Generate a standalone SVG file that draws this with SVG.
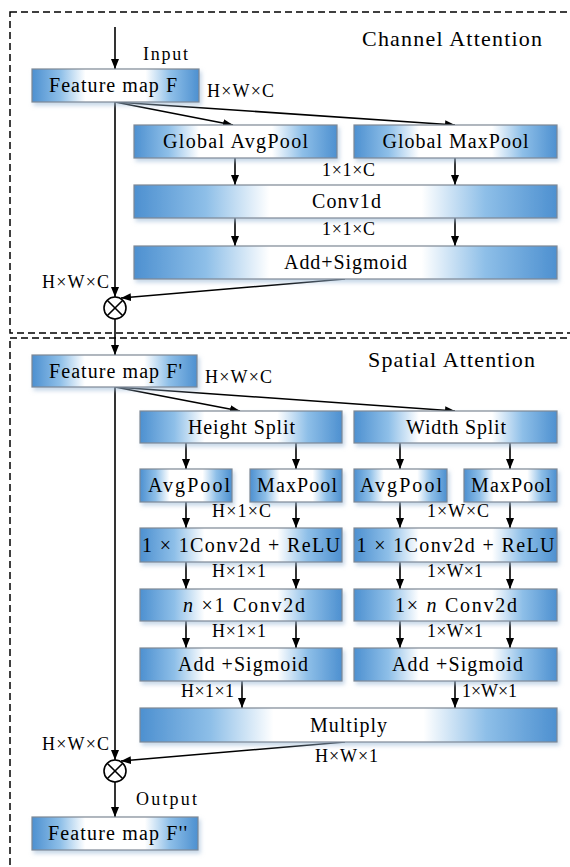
<svg xmlns="http://www.w3.org/2000/svg" width="570" height="867" viewBox="0 0 570 867" font-family="'Liberation Serif', 'Times New Roman', serif">
  <style>
    .frame { fill: none; stroke: #000; stroke-width: 1.5; stroke-dasharray: 7 4; }
    .box { fill: url(#blueFade); stroke: #7e8894; stroke-width: 1.2; filter: url(#soft); }
    .bt { font-size: 20px; fill: #000; text-anchor: middle; }
    .lb { font-size: 18px; fill: #000; }
    .title { font-size: 22px; fill: #000; }
    .ln { fill: none; stroke: #000; stroke-width: 1.6; }
    .arr { marker-end: url(#head); }
    .op { fill: #fff; stroke: #000; stroke-width: 1.6; }
  </style>
  <defs>
    <linearGradient id="blueFade" x1="0" y1="0" x2="1" y2="0">
      <stop offset="0" stop-color="#4d90d0"/>
      <stop offset="0.17" stop-color="#8ebfe8"/>
      <stop offset="0.32" stop-color="#ffffff"/>
      <stop offset="0.68" stop-color="#ffffff"/>
      <stop offset="0.83" stop-color="#8ebfe8"/>
      <stop offset="1" stop-color="#4d90d0"/>
    </linearGradient>
    <filter id="soft" x="-5%" y="-20%" width="115%" height="160%">
      <feDropShadow dx="2" dy="3" stdDeviation="2" flood-color="#9fbbd8" flood-opacity="0.6"/>
    </filter>
    <marker id="head" viewBox="0 0 10 8" refX="10" refY="4" markerWidth="10" markerHeight="8" markerUnits="userSpaceOnUse" orient="auto">
      <path d="M0,0 L10,4 L0,8 Z" fill="#000"/>
    </marker>
  </defs>

  <rect width="570" height="867" fill="#fff"/>

  <!-- section frames -->
  <rect class="frame" x="10" y="12" width="600" height="321"/>
  <rect class="frame" x="10" y="338" width="600" height="560"/>
  <text class="title" x="362" y="46" textLength="180">Channel Attention</text>
  <text class="title" x="368" y="367" textLength="167">Spatial Attention</text>

  <!-- connectors -->
  <g id="connectors">
    <line class="ln arr" x1="115" y1="27" x2="115" y2="69"/>
    <line class="ln arr" x1="115" y1="102" x2="233" y2="125"/>
    <line class="ln arr" x1="115" y1="102" x2="455" y2="125"/>
    <line class="ln arr" x1="235" y1="158" x2="235" y2="185"/>
    <line class="ln arr" x1="455" y1="158" x2="455" y2="185"/>
    <line class="ln arr" x1="235" y1="218" x2="235" y2="246"/>
    <line class="ln arr" x1="455" y1="218" x2="455" y2="246"/>
    <line class="ln arr" x1="115" y1="102" x2="115" y2="297"/>
    <line class="ln arr" x1="345" y1="279" x2="121" y2="298"/>
    <line class="ln arr" x1="115" y1="319" x2="115" y2="355"/>

    <line class="ln arr" x1="115" y1="387" x2="240" y2="411"/>
    <line class="ln arr" x1="115" y1="387" x2="455" y2="411"/>
    <line class="ln arr" x1="186" y1="443" x2="186" y2="469"/>
    <line class="ln arr" x1="296" y1="443" x2="296" y2="469"/>
    <line class="ln arr" x1="400" y1="443" x2="400" y2="469"/>
    <line class="ln arr" x1="510" y1="443" x2="510" y2="469"/>
    <line class="ln arr" x1="186" y1="502" x2="186" y2="528"/>
    <line class="ln arr" x1="296" y1="502" x2="296" y2="528"/>
    <line class="ln arr" x1="400" y1="502" x2="400" y2="528"/>
    <line class="ln arr" x1="510" y1="502" x2="510" y2="528"/>
    <line class="ln arr" x1="186" y1="562" x2="186" y2="589"/>
    <line class="ln arr" x1="296" y1="562" x2="296" y2="589"/>
    <line class="ln arr" x1="400" y1="562" x2="400" y2="589"/>
    <line class="ln arr" x1="510" y1="562" x2="510" y2="589"/>
    <line class="ln arr" x1="186" y1="621" x2="186" y2="648"/>
    <line class="ln arr" x1="296" y1="621" x2="296" y2="648"/>
    <line class="ln arr" x1="400" y1="621" x2="400" y2="648"/>
    <line class="ln arr" x1="510" y1="621" x2="510" y2="648"/>
    <line class="ln arr" x1="242" y1="681" x2="242" y2="708"/>
    <line class="ln arr" x1="455" y1="681" x2="455" y2="708"/>
    <line class="ln arr" x1="115" y1="387" x2="115" y2="760"/>
    <line class="ln arr" x1="345" y1="742" x2="121" y2="761"/>
    <line class="ln arr" x1="115" y1="782" x2="115" y2="817"/>
  </g>

  <!-- channel attention -->
  <g id="feature-map-f">
    <rect class="box" x="32" y="69" width="167" height="33"/>
    <text class="bt" x="113" y="92" textLength="128">Feature map F</text>
  </g>
  <g id="global-avgpool">
    <rect class="box" x="134" y="125" width="203" height="33"/>
    <text class="bt" x="235.5" y="148" textLength="145">Global AvgPool</text>
  </g>
  <g id="global-maxpool">
    <rect class="box" x="354" y="125" width="203" height="33"/>
    <text class="bt" x="455.5" y="148" textLength="146">Global MaxPool</text>
  </g>
  <g id="conv1d">
    <rect class="box" x="134" y="185" width="423" height="33"/>
    <text class="bt" x="346.5" y="208" textLength="69">Conv1d</text>
  </g>
  <g id="add-sigmoid-c">
    <rect class="box" x="134" y="246" width="423" height="33"/>
    <text class="bt" x="345.5" y="269" textLength="123">Add+Sigmoid</text>
  </g>
  <g id="mul-c">
    <circle class="op" cx="115" cy="308" r="11"/>
    <path class="ln" d="M107.2,300.2 L122.8,315.8 M122.8,300.2 L107.2,315.8"/>
  </g>

  <!-- spatial attention -->
  <g id="feature-map-f1">
    <rect class="box" x="32" y="355" width="165" height="32"/>
    <text class="bt" x="115.5" y="378" textLength="133">Feature map F'</text>
  </g>
  <g id="height-split">
    <rect class="box" x="140" y="411" width="202" height="32"/>
    <text class="bt" x="241.5" y="434" textLength="107">Height Split</text>
  </g>
  <g id="width-split">
    <rect class="box" x="354" y="411" width="203" height="32"/>
    <text class="bt" x="456" y="434" textLength="100">Width Split</text>
  </g>
  <g id="avgpool-h">
    <rect class="box" x="140" y="469" width="92" height="33"/>
    <text class="bt" x="189" y="492" textLength="82">AvgPool</text>
  </g>
  <g id="maxpool-h">
    <rect class="box" x="250" y="469" width="92" height="33"/>
    <text class="bt" x="297" y="492" textLength="80">MaxPool</text>
  </g>
  <g id="avgpool-w">
    <rect class="box" x="354" y="469" width="93" height="33"/>
    <text class="bt" x="401" y="492" textLength="82">AvgPool</text>
  </g>
  <g id="maxpool-w">
    <rect class="box" x="464" y="469" width="93" height="33"/>
    <text class="bt" x="511" y="492" textLength="80">MaxPool</text>
  </g>
  <g id="conv-relu-h">
    <rect class="box" x="140" y="528" width="202" height="34"/>
    <text class="bt" x="241" y="552" textLength="198">1 × 1Conv2d + ReLU</text>
  </g>
  <g id="conv-relu-w">
    <rect class="box" x="354" y="528" width="203" height="34"/>
    <text class="bt" x="455.5" y="552" textLength="198">1 × 1Conv2d + ReLU</text>
  </g>
  <g id="conv-n1">
    <rect class="box" x="140" y="589" width="202" height="32"/>
    <text class="bt" x="244" y="612" textLength="122"><tspan font-style="italic">n</tspan> ×1 Conv2d</text>
  </g>
  <g id="conv-1n">
    <rect class="box" x="354" y="589" width="203" height="32"/>
    <text class="bt" x="456" y="612" textLength="122">1× <tspan font-style="italic">n</tspan> Conv2d</text>
  </g>
  <g id="add-sigmoid-h">
    <rect class="box" x="140" y="648" width="202" height="33"/>
    <text class="bt" x="243" y="671" textLength="130">Add +Sigmoid</text>
  </g>
  <g id="add-sigmoid-w">
    <rect class="box" x="354" y="648" width="203" height="33"/>
    <text class="bt" x="457.5" y="671" textLength="131">Add +Sigmoid</text>
  </g>
  <g id="multiply">
    <rect class="box" x="140" y="708" width="417" height="34"/>
    <text class="bt" x="348.5" y="732" textLength="77">Multiply</text>
  </g>
  <g id="mul-s">
    <circle class="op" cx="115" cy="771" r="11"/>
    <path class="ln" d="M107.2,763.2 L122.8,778.8 M122.8,763.2 L107.2,778.8"/>
  </g>
  <g id="feature-map-f2">
    <rect class="box" x="32" y="817" width="166" height="33"/>
    <text class="bt" x="117.5" y="840" textLength="139">Feature map F''</text>
  </g>

  <!-- tensor shape and flow labels -->
  <g id="labels">
    <text class="lb" x="143" y="60" font-size="20" textLength="45">Input</text>
    <text class="lb" x="207" y="97" textLength="67">H×W×C</text>
    <text class="lb" x="322" y="176" textLength="53">1×1×C</text>
    <text class="lb" x="322" y="235" textLength="53">1×1×C</text>
    <text class="lb" x="42" y="288" textLength="67">H×W×C</text>
    <text class="lb" x="205" y="383" textLength="67">H×W×C</text>
    <text class="lb" x="212" y="517" textLength="59">H×1×C</text>
    <text class="lb" x="427" y="517" textLength="62">1×W×C</text>
    <text class="lb" x="212" y="577" textLength="54">H×1×1</text>
    <text class="lb" x="427" y="577" textLength="56">1×W×1</text>
    <text class="lb" x="212" y="637" textLength="54">H×1×1</text>
    <text class="lb" x="427" y="637" textLength="56">1×W×1</text>
    <text class="lb" x="181" y="697" textLength="53">H×1×1</text>
    <text class="lb" x="462" y="697" textLength="55">1×W×1</text>
    <text class="lb" x="42" y="750" textLength="67">H×W×C</text>
    <text class="lb" x="315" y="762" textLength="63">H×W×1</text>
    <text class="lb" x="136" y="805" font-size="20" textLength="61">Output</text>
  </g>
</svg>
